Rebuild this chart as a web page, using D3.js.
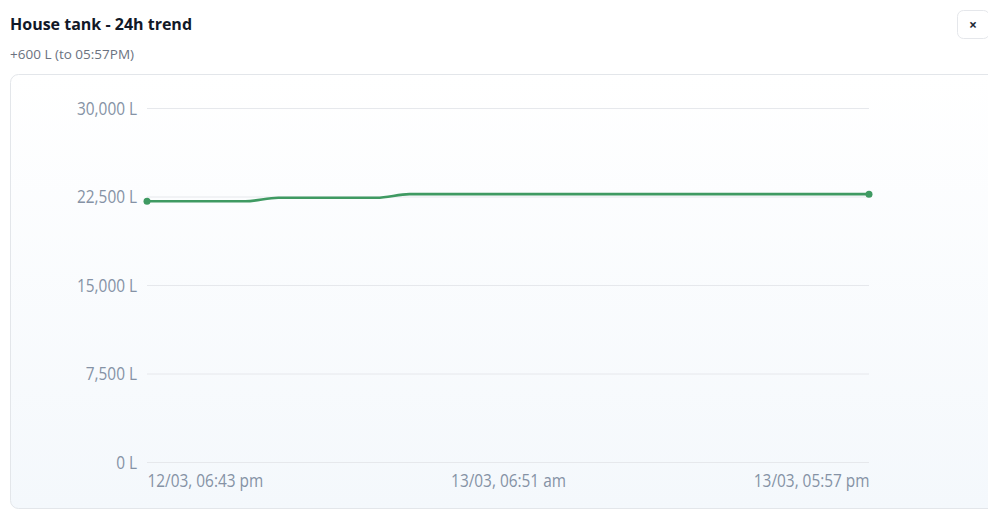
<!DOCTYPE html>
<html>
<head>
<meta charset="utf-8">
<script src="https://cdn.jsdelivr.net/npm/d3@7"></script>
<style>
  html, body { margin: 0; padding: 0; background: #fff; }
  body { width: 988px; height: 527px; overflow: hidden; font-family: "Open Sans", "Noto Sans", sans-serif; }
  svg { display: block; }
</style>
</head>
<body>
<svg id="chart" width="988" height="527"></svg>
<script>
// ---- data ----
const title = "House tank - 24h trend";
const subtitle = "+600 L (to 05:57PM)";
const timeLabels = [
  "12/03, 06:43 pm", "12/03, 07:46 pm", "12/03, 08:50 pm", "12/03, 09:53 pm",
  "12/03, 10:57 pm", "13/03, 12:00 am", "13/03, 01:04 am", "13/03, 02:07 am",
  "13/03, 03:11 am", "13/03, 04:14 am", "13/03, 05:18 am", "13/03, 06:51 am",
  "13/03, 07:22 am", "13/03, 08:25 am", "13/03, 09:29 am", "13/03, 10:32 am",
  "13/03, 11:36 am", "13/03, 12:39 pm", "13/03, 01:43 pm", "13/03, 02:46 pm",
  "13/03, 03:50 pm", "13/03, 04:53 pm", "13/03, 05:57 pm"
];
const levels = [
  22100, 22100, 22100, 22100,
  22400, 22400, 22400, 22400,
  22700, 22700, 22700, 22700, 22700, 22700, 22700, 22700,
  22700, 22700, 22700, 22700, 22700, 22700, 22700
];
const yTicks = [0, 7500, 15000, 22500, 30000];
const shownTickIdx = [0, 11, 22];

// ---- layout ----
const svg = d3.select("#chart");
const plot = { left: 147, right: 869, top: 108, bottom: 462 };
const lineColor = "#3f9a62";
const tickColor = "#8592a5";
const sx = 0.88;

// defs: card gradient
const defs = svg.append("defs");
const grad = defs.append("linearGradient").attr("id", "cardGrad")
  .attr("x1", 0).attr("y1", 0).attr("x2", 0).attr("y2", 1);
grad.append("stop").attr("offset", "0%").attr("stop-color", "#ffffff");
grad.append("stop").attr("offset", "100%").attr("stop-color", "#f4f8fc");

// header
svg.append("text").attr("x", 10).attr("y", 30)
  .attr("font-family", "'Open Sans', sans-serif").attr("font-weight", 700)
  .attr("font-size", 16).attr("fill", "#111827").text(title);
svg.append("text").attr("x", 10).attr("y", 59)
  .attr("font-family", "'Open Sans', sans-serif")
  .attr("font-size", 13.5).attr("fill", "#6b7280").text(subtitle);

// close button
svg.append("rect").attr("x", 957.5).attr("y", 10.5).attr("width", 32).attr("height", 28)
  .attr("rx", 6).attr("fill", "#fff").attr("stroke", "#e5e7eb");
svg.append("text").attr("x", 973).attr("y", 30).attr("text-anchor", "middle")
  .attr("font-family", "'Open Sans', sans-serif").attr("font-weight", 700)
  .attr("font-size", 14).attr("fill", "#1f2937").text("×");

// card
svg.append("rect").attr("x", 10.5).attr("y", 74.5).attr("width", 1000).attr("height", 434)
  .attr("rx", 8).attr("fill", "url(#cardGrad)").attr("stroke", "#e3e6ea");

// scales
const x = d3.scalePoint().domain(d3.range(levels.length)).range([plot.left, plot.right]);
const y = d3.scaleLinear().domain([0, 30000]).range([plot.bottom, plot.top]);

// y axis / grid
const yAxis = d3.axisLeft(y).tickValues(yTicks)
  .tickSize(-(plot.right - plot.left)).tickPadding(10)
  .tickFormat(d => d3.format(",")(d) + " L");
const gy = svg.append("g").attr("transform", `translate(${plot.left},0)`).call(yAxis);
gy.select(".domain").remove();
gy.selectAll(".tick line").attr("stroke", "#e6e8ec").attr("stroke-width", 1);
gy.selectAll(".tick text").attr("fill", tickColor)
  .attr("font-family", "'Open Sans', sans-serif").attr("font-size", 17.5).attr("font-weight", 500)
  .attr("x", -10 / sx).attr("transform", `scale(${sx},1)`).attr("dy", "0.35em");

// x axis
const xAxis = d3.axisBottom(x).tickValues(shownTickIdx).tickSize(0).tickPadding(13)
  .tickFormat(i => timeLabels[i]);
const gx = svg.append("g").attr("transform", `translate(0,${plot.bottom})`).call(xAxis);
gx.select(".domain").remove();
gx.selectAll(".tick text").attr("fill", tickColor)
  .attr("font-family", "'Open Sans', sans-serif").attr("font-size", 17.5).attr("font-weight", 500)
  .attr("transform", `scale(${sx},1)`)
  .attr("text-anchor", (d, k) => k === 0 ? "start" : (k === shownTickIdx.length - 1 ? "end" : "middle"));

// line
const line = d3.line().x((d, i) => x(i)).y(d => y(d)).curve(d3.curveMonotoneX);
svg.append("path").datum(levels).attr("d", line)
  .attr("fill", "none").attr("stroke", lineColor).attr("stroke-width", 2.6);

// end dots
const ends = [0, levels.length - 1];
svg.selectAll("circle.end").data(ends).enter().append("circle")
  .attr("cx", i => x(i)).attr("cy", i => y(levels[i])).attr("r", 3.5)
  .attr("fill", lineColor);
</script>
</body>
</html>
